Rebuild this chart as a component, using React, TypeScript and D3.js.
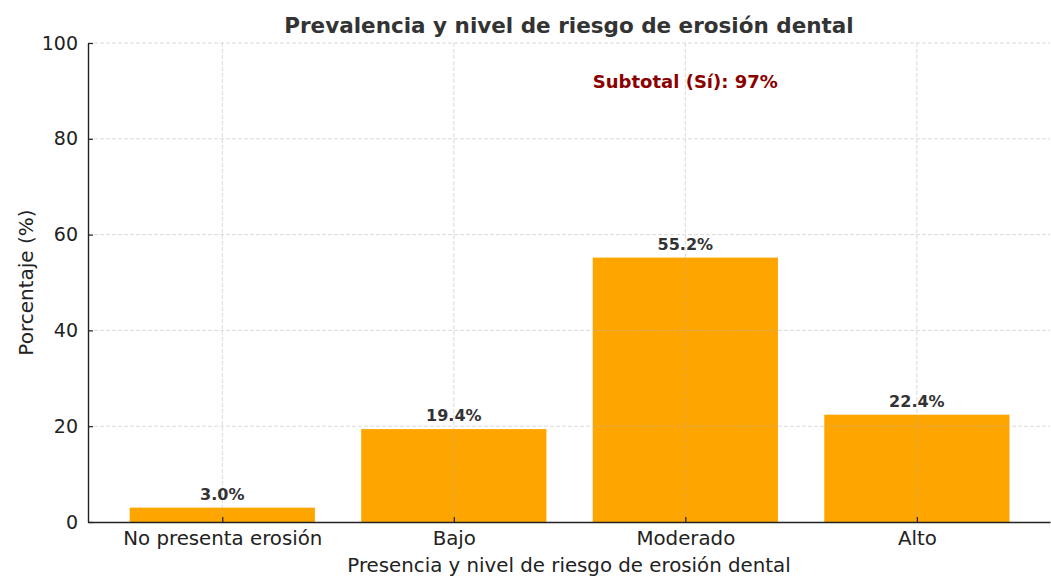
import React, { useEffect, useRef } from 'react';
import * as d3 from 'd3';

const categories = ['No presenta erosión', 'Bajo', 'Moderado', 'Alto'];
const values = [3.0, 19.4, 55.2, 22.4];
const yTicks = [0, 20, 40, 60, 80, 100];
const subtotalLabel = 'Subtotal (Sí): 97%';

const width = 1051;
const height = 579;
const margin = { top: 43, right: 1, bottom: 57, left: 88 };
const font = '"DejaVu Sans", sans-serif';

export default function App() {
  const ref = useRef<SVGSVGElement>(null);

  useEffect(() => {
    draw();
  }, []);

  function draw() {
    const svg = d3.select(ref.current);
    svg.selectAll('*').remove();

    const x = d3
      .scaleLinear()
      .domain([-0.58, categories.length - 1 + 0.575])
      .range([margin.left, width - margin.right]);

    const y = d3
      .scaleLinear()
      .domain([0, 100])
      .range([height - margin.bottom, margin.top]);

    const barW = x(0.8) - x(0);
    const g = svg.append('g');

    // bars
    g.selectAll('rect.bar')
      .data(values)
      .enter()
      .append('rect')
      .attr('class', 'bar')
      .attr('x', (d, i) => x(i) - barW / 2)
      .attr('y', (d) => y(d))
      .attr('width', barW)
      .attr('height', (d) => y(0) - y(d))
      .attr('fill', '#ffa500');

    // grid (drawn over bars, faint)
    g.selectAll('line.hgrid')
      .data(yTicks.filter((t) => t > 0))
      .enter()
      .append('line')
      .attr('x1', margin.left)
      .attr('x2', width - margin.right)
      .attr('y1', (d) => y(d))
      .attr('y2', (d) => y(d))
      .attr('stroke', '#b0b0b0')
      .attr('stroke-opacity', 0.6)
      .attr('stroke-dasharray', '4,2')
      .attr('stroke-width', 0.8);

    g.selectAll('line.vgrid')
      .data(categories)
      .enter()
      .append('line')
      .attr('x1', (d, i) => x(i))
      .attr('x2', (d, i) => x(i))
      .attr('y1', y(100))
      .attr('y2', y(0))
      .attr('stroke', '#b0b0b0')
      .attr('stroke-opacity', 0.6)
      .attr('stroke-dasharray', '4,2')
      .attr('stroke-width', 0.8);

    // axes
    const yAxis = d3
      .axisLeft(y)
      .tickValues(yTicks)
      .tickSizeInner(-5)
      .tickSizeOuter(0)
      .tickPadding(10);

    const yg = g
      .append('g')
      .attr('transform', `translate(${margin.left},0)`)
      .call(yAxis);
    yg.select('.domain').attr('stroke', '#222').attr('stroke-width', 1.4);
    yg.selectAll('.tick line').attr('stroke', '#222').attr('stroke-width', 1.2);
    yg.selectAll('.tick text')
      .attr('font-family', font)
      .attr('font-size', 19)
      .attr('fill', '#222');

    const xAxis = d3
      .axisBottom(x)
      .tickValues(categories.map((c, i) => i))
      .tickFormat((d) => categories[d as number])
      .tickSizeInner(-5)
      .tickSizeOuter(0)
      .tickPadding(9);

    const xg = g
      .append('g')
      .attr('transform', `translate(0,${y(0)})`)
      .call(xAxis);
    xg.select('.domain').attr('stroke', '#222').attr('stroke-width', 1.4);
    xg.selectAll('.tick line').attr('stroke', '#222').attr('stroke-width', 1.2);
    xg.selectAll('.tick text')
      .attr('font-family', font)
      .attr('font-size', 19.8)
      .attr('fill', '#222');

    // value labels
    g.selectAll('text.val')
      .data(values)
      .enter()
      .append('text')
      .attr('x', (d, i) => x(i))
      .attr('y', (d) => y(d) - 8)
      .attr('text-anchor', 'middle')
      .attr('font-family', font)
      .attr('font-size', 16)
      .attr('font-weight', 'bold')
      .attr('fill', '#333')
      .text((d) => `${d.toFixed(1)}%`);

    // subtotal annotation
    g.append('text')
      .attr('x', x(2))
      .attr('y', y(90.6))
      .attr('text-anchor', 'middle')
      .attr('font-family', font)
      .attr('font-size', 18)
      .attr('font-weight', 'bold')
      .attr('fill', '#8b0000')
      .text(subtotalLabel);

    // title
    svg.append('text')
      .attr('x', (margin.left + width - margin.right) / 2)
      .attr('y', 33)
      .attr('text-anchor', 'middle')
      .attr('font-family', font)
      .attr('font-size', 21.5)
      .attr('font-weight', 'bold')
      .attr('fill', '#333')
      .text('Prevalencia y nivel de riesgo de erosión dental');

    // axis titles
    svg.append('text')
      .attr('x', (margin.left + width - margin.right) / 2)
      .attr('y', 572)
      .attr('text-anchor', 'middle')
      .attr('font-family', font)
      .attr('font-size', 19.8)
      .attr('fill', '#222')
      .text('Presencia y nivel de riesgo de erosión dental');

    svg.append('text')
      .attr('transform', `translate(33,${(margin.top + height - margin.bottom) / 2}) rotate(-90)`)
      .attr('text-anchor', 'middle')
      .attr('font-family', font)
      .attr('font-size', 20)
      .attr('fill', '#222')
      .text('Porcentaje (%)');
  }

  return (
    <svg
      ref={ref}
      width={width}
      height={height}
      style={{ position: 'absolute', left: 0, top: 0, background: '#fff' }}
    />
  );
}
